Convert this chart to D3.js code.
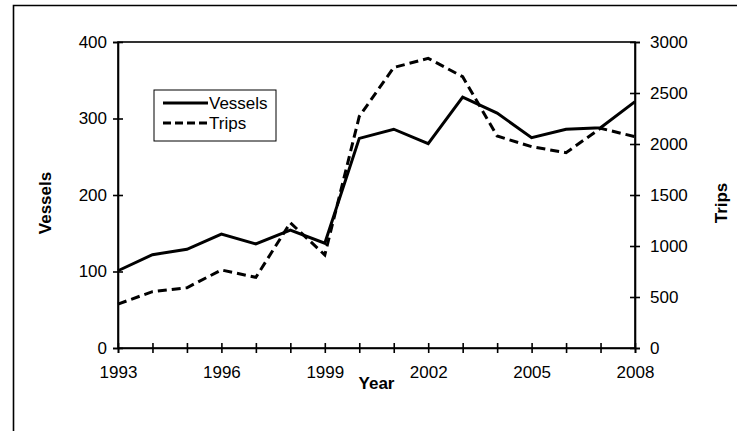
<!DOCTYPE html>
<html>
<head>
<meta charset="utf-8">
<script src="https://cdn.jsdelivr.net/npm/d3@7"></script>
<style>
  body { margin: 0; background: #fff; }
  svg { display: block; font-family: "Liberation Sans", Arial, sans-serif; }
  .axis path, .axis line { stroke: #000; stroke-width: 1.6; }
  .axis text { font-size: 17px; fill: #000; }
  .label { font-size: 17px; font-weight: bold; fill: #000; }
</style>
</head>
<body>
<div id="chart"></div>
<script>
// values
var years = [1993, 1994, 1995, 1996, 1997, 1998, 1999, 2000, 2001, 2002, 2003, 2004, 2005, 2006, 2007, 2008];
var vessels = [101, 122, 129, 149, 136, 154, 137, 274, 286, 267, 328, 307, 275, 286, 288, 322];
var trips = [431, 552, 591, 765, 693, 1228, 912, 2270, 2750, 2840, 2660, 2078, 1974, 1915, 2154, 2072];
var yearLabels = [1993, 1996, 1999, 2002, 2005, 2008];
var vesselTicks = [0, 100, 200, 300, 400];
var tripTicks = [0, 500, 1000, 1500, 2000, 2500, 3000];
var seriesNames = ["Vessels", "Trips"];

var W = 737, H = 431;
var margin = {top: 42, right: 102, bottom: 83, left: 118};
var width = W - margin.left - margin.right,
    height = H - margin.top - margin.bottom;

var svg = d3.select("#chart").append("svg")
    .attr("width", W)
    .attr("height", H);

// outer frame (runs off the right and bottom of the picture)
svg.append("path")
    .attr("d", "M13.5," + H + "V5.5H" + W)
    .attr("fill", "none")
    .attr("stroke", "#000")
    .attr("stroke-width", 1.6);

var g = svg.append("g")
    .attr("transform", "translate(" + margin.left + "," + margin.top + ")");

var x = d3.scaleLinear().domain([1993, 2008]).range([0, width]);
var yLeft = d3.scaleLinear().domain([0, 400]).range([height, 0]);
var yRight = d3.scaleLinear().domain([0, 3000]).range([height, 0]);

// plot box
g.append("rect")
    .attr("width", width)
    .attr("height", height)
    .attr("fill", "none")
    .attr("stroke", "#000")
    .attr("stroke-width", 1.6);

var xAxis = g.append("g")
    .attr("class", "axis")
    .attr("transform", "translate(0," + height + ")")
    .call(d3.axisBottom(x).tickValues(years).tickSize(5).tickPadding(13)
        .tickFormat(function(d) { return yearLabels.indexOf(d) >= 0 ? d : ""; }));
xAxis.selectAll(".tick line").attr("y1", -5).attr("y2", 5);

var leftAxis = g.append("g")
    .attr("class", "axis")
    .call(d3.axisLeft(yLeft).tickValues(vesselTicks).tickSize(5).tickPadding(6));
leftAxis.selectAll(".tick line").attr("x1", -5).attr("x2", 5);

var rightAxis = g.append("g")
    .attr("class", "axis")
    .attr("transform", "translate(" + width + ",0)")
    .call(d3.axisRight(yRight).tickValues(tripTicks).tickSize(5).tickPadding(10)
        .tickFormat(d3.format("d")));
rightAxis.selectAll(".tick line").attr("x1", -5).attr("x2", 5);

// axis titles
g.append("text")
    .attr("class", "label")
    .attr("transform", "translate(" + (-67) + "," + (height / 2 + 8) + ") rotate(-90)")
    .attr("text-anchor", "middle")
    .text("Vessels");

g.append("text")
    .attr("class", "label")
    .attr("transform", "translate(" + (width + 92) + "," + (height / 2 + 8) + ") rotate(-90)")
    .attr("text-anchor", "middle")
    .text("Trips");

g.append("text")
    .attr("class", "label")
    .attr("x", x(2000.5))
    .attr("y", height + 41)
    .attr("text-anchor", "middle")
    .text("Year");

// lines
var vesselLine = d3.line()
    .x(function(d, i) { return x(years[i]); })
    .y(function(d) { return yLeft(d); });
var tripLine = d3.line()
    .x(function(d, i) { return x(years[i]); })
    .y(function(d) { return yRight(d); });

g.append("path")
    .datum(trips)
    .attr("d", tripLine)
    .attr("fill", "none")
    .attr("stroke", "#000")
    .attr("stroke-width", 3)
    .attr("stroke-dasharray", "9,5");

g.append("path")
    .datum(vessels)
    .attr("d", vesselLine)
    .attr("fill", "none")
    .attr("stroke", "#000")
    .attr("stroke-width", 3);

// legend
var legend = svg.append("g").attr("transform", "translate(154,90)");
legend.append("rect")
    .attr("width", 122)
    .attr("height", 51)
    .attr("fill", "#fff")
    .attr("stroke", "#000")
    .attr("stroke-width", 1);

var item = legend.selectAll(".item")
    .data(seriesNames)
    .enter().append("g")
    .attr("class", "item")
    .attr("transform", function(d, i) { return "translate(0," + (13 + i * 20) + ")"; });

item.append("line")
    .attr("x1", 9).attr("x2", 54)
    .attr("stroke", "#000")
    .attr("stroke-width", 3)
    .attr("stroke-dasharray", function(d, i) { return i ? "8,4" : null; });

item.append("text")
    .attr("x", 55)
    .attr("y", 6)
    .style("font-size", "17px")
    .text(function(d) { return d; });
</script>
</body>
</html>
